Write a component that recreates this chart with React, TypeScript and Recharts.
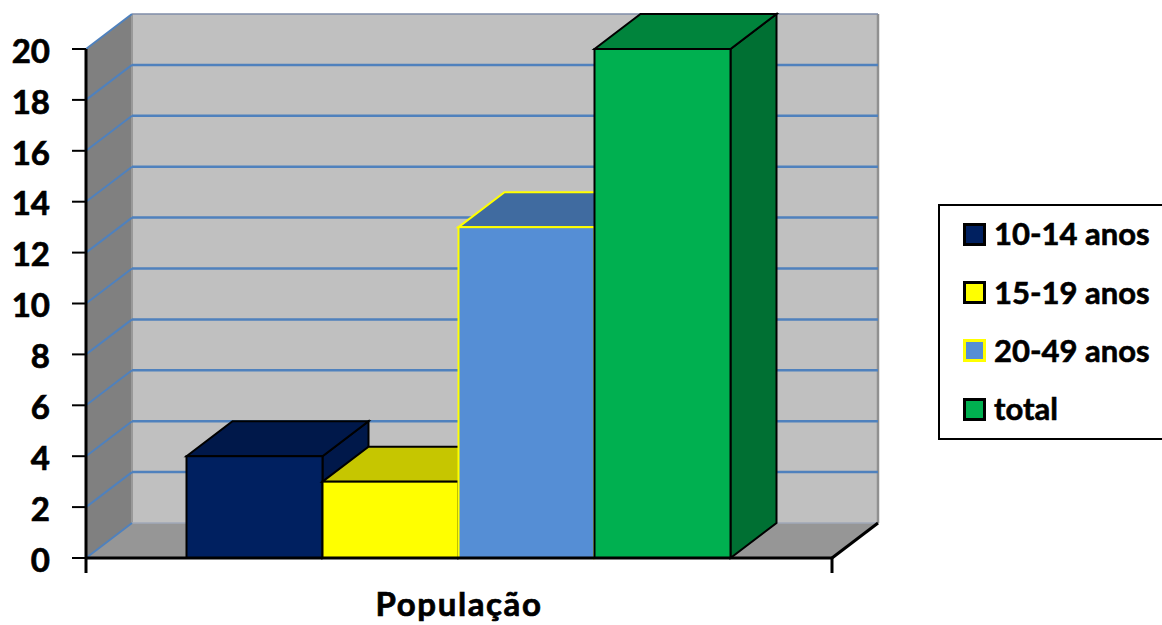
import React from "react";
import {
  BarChart,
  Bar,
  XAxis,
  YAxis,
  Legend,
  ReferenceArea,
} from "recharts";

const categories = ["População"];
const seriesNames = ["10-14 anos", "15-19 anos", "20-49 anos", "total"];
const seriesValues = [4, 3, 13, 20];
const yTicks = [0, 2, 4, 6, 8, 10, 12, 14, 16, 18, 20];

const fronts = ["#002060", "#FFFF00", "#558ED5", "#00B050"];
const tops = ["#00184A", "#C6C600", "#406BA0", "#00843C"];
const sides = ["#00184A", "#C6C600", "#406BA0", "#007033"];
const edges = ["#000000", "#000000", "#FFFF00", "#000000"];

const FONT = "Lato, 'Noto Sans', sans-serif";
// oblique offset of the 3D depth
const DX = 46;
const DY = 35;
const GRID_BLUE = "#4F81BD";

const rows = categories.map((name) => {
  const row: Record<string, string | number> = { name };
  seriesNames.forEach((s, i) => {
    row[s] = seriesValues[i];
  });
  return row;
});

// side wall, back wall and floor, plus the end ticks of the category axis
const Walls = ({ x, y, width, height }: any) => {
  const b = y + height;
  const r = x + width;
  return (
    <g>
      <polygon points={`${x},${y} ${x + DX},${y - DY} ${x + DX},${b - DY} ${x},${b}`} fill="#808080" />
      <rect x={x + DX} y={y - DY} width={width} height={height} fill="#C0C0C0" />
      <polygon points={`${x},${b} ${x + DX},${b - DY} ${r + DX},${b - DY} ${r},${b}`} fill="#969696" />
      <line x1={x + DX} y1={y - DY} x2={x + DX} y2={b - DY} stroke="#999999" strokeWidth={2} />
      <line x1={r + DX} y1={y - DY} x2={r + DX} y2={b - DY} stroke="#909090" strokeWidth={2.5} />
      <line x1={x + DX} y1={y - DY} x2={r + DX} y2={y - DY} stroke="#7F8CA8" strokeWidth={1.5} />
      <line x1={x + DX} y1={b - DY} x2={r + DX} y2={b - DY} stroke="#A0A8B8" strokeWidth={1.5} />
      <line x1={r} y1={b} x2={r + DX} y2={b - DY} stroke="#000000" strokeWidth={3} />
      <line x1={x} y1={b} x2={x} y2={b + 15} stroke="#000000" strokeWidth={3} />
      <line x1={r} y1={b} x2={r} y2={b + 15} stroke="#000000" strokeWidth={3} />
      <WallGrid x={x} r={r} y={y} height={height} />
    </g>
  );
};

// gridlines run along the side wall and then the back wall
const WallGrid = ({ x, r, y, height }: any) => (
  <g>
    {yTicks.map((t) => {
      const gy = y + height - (t / yTicks[yTicks.length - 1]) * height;
      return (
        <g key={t}>
          <line x1={x} y1={gy} x2={x + DX} y2={gy - DY} stroke={GRID_BLUE} strokeWidth={2} />
          {t > 0 && t < 20 && (
            <line x1={x + DX} y1={gy - DY} x2={r + DX} y2={gy - DY} stroke={GRID_BLUE} strokeWidth={2.5} />
          )}
        </g>
      );
    })}
  </g>
);

const Box = (i: number) => (props: any) => {
  const { x, y, width, height } = props;
  const r = x + width;
  const b = y + height;
  const stroke = edges[i];
  return (
    <g strokeLinejoin="miter">
      <polygon
        points={`${r},${y} ${r + DX},${y - DY} ${r + DX},${b - DY} ${r},${b}`}
        fill={sides[i]}
        stroke={stroke}
        strokeWidth={2}
      />
      <polygon
        points={`${x},${y} ${x + DX},${y - DY} ${r + DX},${y - DY} ${r},${y}`}
        fill={tops[i]}
        stroke={stroke}
        strokeWidth={2}
      />
      <rect x={x} y={y} width={width} height={height} fill={fronts[i]} stroke={stroke} strokeWidth={2} />
    </g>
  );
};

const LegendBox = ({ payload }: any) => (
  <div
    style={{
      boxSizing: "border-box",
      width: 240,
      height: 236,
      border: "2px solid #000",
      background: "#fff",
    }}
  >
    <div style={{ marginTop: -1 }}>
      {(payload || []).map((entry: any, i: number) => (
        <div
          key={entry.value}
          style={{ display: "flex", alignItems: "center", height: 58.4, paddingLeft: 23 }}
        >
          <span
            style={{
              boxSizing: "border-box",
              width: 23,
              height: 23,
              background: fronts[i],
              border: `3px solid ${edges[i]}`,
              marginRight: 8,
            }}
          />
          <span
            style={{
              fontFamily: FONT,
              fontWeight: 700,
              fontSize: 31,
              color: "#000",
              whiteSpace: "nowrap",
              WebkitTextStroke: "0.6px #000",
              position: "relative",
              top: -1,
            }}
          >
            {entry.value}
          </span>
        </div>
      ))}
    </div>
  </div>
);

export default function App() {
  return (
    <div style={{ position: "absolute", left: 0, top: 0, width: 1162, height: 625, overflow: "hidden", background: "#fff" }}>
      <BarChart
        width={1162}
        height={625}
        data={rows}
        margin={{ top: 49, right: 330, left: 26, bottom: 37 }}
        barCategoryGap={100.5}
        barGap={0}
      >
        <ReferenceArea x1={categories[0]} x2={categories[0]} y1={0} y2={20} ifOverflow="visible" shape={<Walls />} />
        <XAxis
          dataKey="name"
          height={30}
          tickLine={false}
          axisLine={{ stroke: "#000", strokeWidth: 3 }}
          tick={{ fill: "#000", stroke: "#000", strokeWidth: 0.7, fontFamily: FONT, fontWeight: 700, fontSize: 33, letterSpacing: 1.6 }}
          tickMargin={29}
        />
        <YAxis
          width={60}
          domain={[0, 20]}
          ticks={yTicks}
          interval={0}
          tickSize={14}
          tickMargin={22}
          axisLine={{ stroke: "#000", strokeWidth: 3 }}
          tickLine={{ stroke: "#000", strokeWidth: 2 }}
          tick={{ fill: "#000", stroke: "#000", strokeWidth: 0.7, fontFamily: FONT, fontWeight: 700, fontSize: 33, dy: 2 }}
        />
        {seriesNames.map((s, i) => (
          <Bar key={s} dataKey={s} name={s} fill={fronts[i]} shape={Box(i)} isAnimationActive={false} />
        ))}
        <Legend
          layout="vertical"
          align="center"
          verticalAlign="middle"
          content={<LegendBox />}
          wrapperStyle={{ left: 938, top: 204, width: 240, height: 236 }}
        />
      </BarChart>
    </div>
  );
}
